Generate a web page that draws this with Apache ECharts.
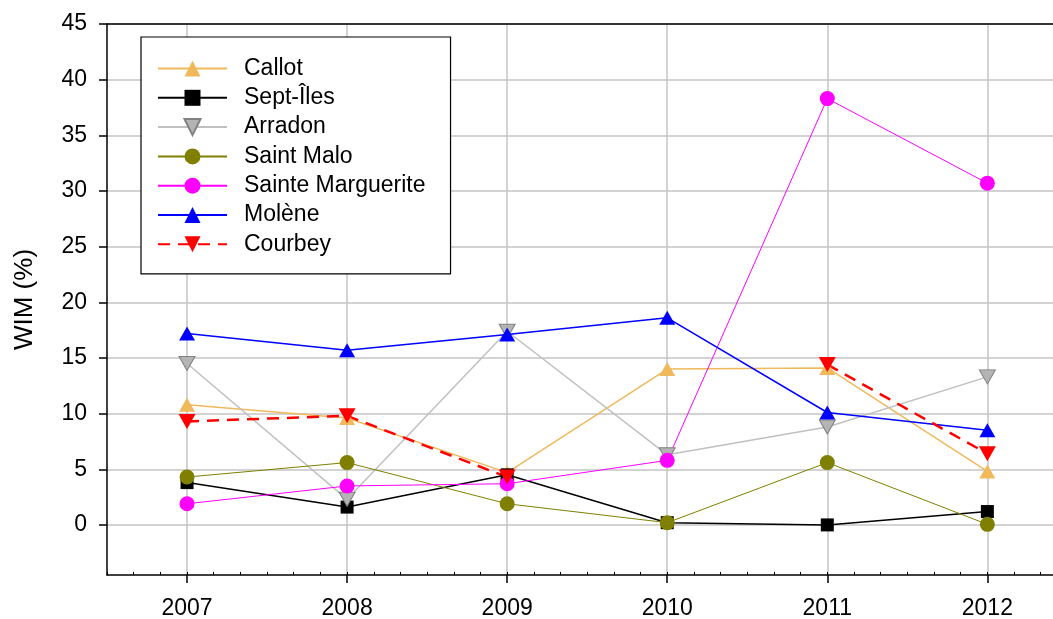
<!DOCTYPE html>
<html>
<head>
<meta charset="utf-8">
<script src="https://cdn.jsdelivr.net/npm/echarts@6/dist/echarts.min.js"></script>
<style>
  html, body { margin: 0; padding: 0; background: #fff; }
  #chart { width: 1053px; height: 619px; }
</style>
</head>
<body>
<div id="chart"></div>
<script>
// years and WIM (%) per site
const years = [2007, 2008, 2009, 2010, 2011, 2012]
const yTicks = [0, 5, 10, 15, 20, 25, 30, 35, 40, 45]
const callot = [10.8, 9.6, 4.7, 14.0, 14.1, 4.8]
const septIles = [3.8, 1.6, 4.5, 0.2, 0.0, 1.2]
const arradon = [14.5, 2.3, 17.4, 6.3, 8.8, 13.3]
const saintMalo = [4.3, 5.6, 1.9, 0.2, 5.6, 0.05]
const sainteMarguerite = [1.9, 3.5, 3.7, 5.8, 38.3, 30.7]
const molene = [17.2, 15.7, 17.1, 18.6, 10.1, 8.5]
const courbey = [9.3, 9.8, 4.3, null, 14.4, 6.4]

const FONT = 'Liberation Sans, Arial, sans-serif'

function pairs(vals) {
  return years.map((y, i) => [y, vals[i]])
}

// series builder
function line(name, vals, color, symbol, opts) {
  return Object.assign({
    name: name,
    type: 'line',
    xAxisIndex: 1,
    data: pairs(vals),
    symbol: symbol,
    symbolSize: 15,
    showAllSymbol: true,
    connectNulls: false,
    lineStyle: { color: color, width: 1.5 },
    itemStyle: { color: color },
    emphasis: { disabled: true },
    animation: false
  }, opts || {})
}

const chart = echarts.init(document.getElementById('chart'))
chart.setOption({
  backgroundColor: '#fff',
  animation: false,
  textStyle: { fontFamily: FONT },
  grid: { left: 107, top: 24, right: 0, bottom: 44, outerBoundsMode: 'none' },
  legend: {
    orient: 'vertical',
    left: 141,
    top: 37,
    padding: [20, 25, 18, 16],
    itemWidth: 69,
    itemHeight: 20,
    itemGap: 6.3,
    borderColor: '#000',
    borderWidth: 1.2,
    borderRadius: 0,
    backgroundColor: '#fff',
    textStyle: { color: '#000', fontSize: 23, fontFamily: FONT, padding: [0, 0, 0, 12] },
    data: ['Callot', 'Sept-Îles', 'Arradon', 'Saint Malo', 'Sainte Marguerite', 'Molène', 'Courbey']
  },
  xAxis: [
    {
      // minor ticks along the bottom
      type: 'value',
      position: 'bottom',
      min: 2006.5,
      max: 2012.41,
      interval: 1 / 6,
      axisLine: { show: true, onZero: false, lineStyle: { color: '#000', width: 1.5 } },
      axisTick: { show: true, inside: true, length: 3, lineStyle: { color: '#000', width: 1 } },
      axisLabel: { show: false },
      splitLine: { show: false }
    },
    {
      type: 'value',
      position: 'bottom',
      min: 2006.5,
      max: 2012.41,
      axisLine: { show: false, onZero: false },
      axisTick: { show: true, length: 8, customValues: years, lineStyle: { color: '#000', width: 1.5 } },
      axisLabel: { show: true, customValues: years, margin: 22, color: '#000', fontSize: 23, fontFamily: FONT,
        formatter: (v) => String(v) },
      splitLine: { show: true, lineStyle: { color: '#c4c4c4', width: 1.5 } }
    },
    {
      // top frame line
      type: 'value',
      position: 'top',
      min: 2006.5,
      max: 2012.41,
      axisLine: { show: true, onZero: false, lineStyle: { color: '#000', width: 1.5 } },
      axisTick: { show: false },
      axisLabel: { show: false },
      splitLine: { show: false }
    }
  ],
  yAxis: {
    type: 'value',
    min: -4.5,
    max: 45,
    splitNumber: 10,
    name: 'WIM (%)',
    nameLocation: 'middle',
    nameGap: 69,
    nameTextStyle: { color: '#000', fontSize: 26, fontFamily: FONT },
    axisLine: { show: true, onZero: false, lineStyle: { color: '#000', width: 1.5 } },
    axisTick: { show: true, length: 8, customValues: yTicks, lineStyle: { color: '#000', width: 1.5 } },
    axisLabel: { show: true, customValues: yTicks, margin: 20, color: '#000', fontSize: 23, fontFamily: FONT },
    splitLine: { show: true, lineStyle: { color: '#c4c4c4', width: 1.5 } }
  },
  series: [
    line('Callot', callot, '#efb95c', 'triangle', { symbolSize: [16, 14] }),
    line('Sept-Îles', septIles, '#000000', 'rect', { symbolSize: 13 }),
    line('Arradon', arradon, '#c0c0c0', 'triangle', {
      symbolSize: [16, 14], symbolRotate: 180,
      itemStyle: { color: '#b4b4b4', borderColor: '#808080', borderWidth: 1 }
    }),
    line('Saint Malo', saintMalo, '#808000', 'circle', { lineStyle: { color: '#808000', width: 1 } }),
    line('Sainte Marguerite', sainteMarguerite, '#ff00ff', 'circle', { lineStyle: { color: '#ff00ff', width: 1 } }),
    line('Molène', molene, '#0000ff', 'triangle', { symbolSize: [16, 14] }),
    line('Courbey', courbey, '#ff0000', 'triangle', {
      symbolSize: [17, 15], symbolRotate: 180,
      lineStyle: { color: '#ff0000', width: 2.5, type: [12, 8] }
    })
  ]
})
</script>
</body>
</html>
